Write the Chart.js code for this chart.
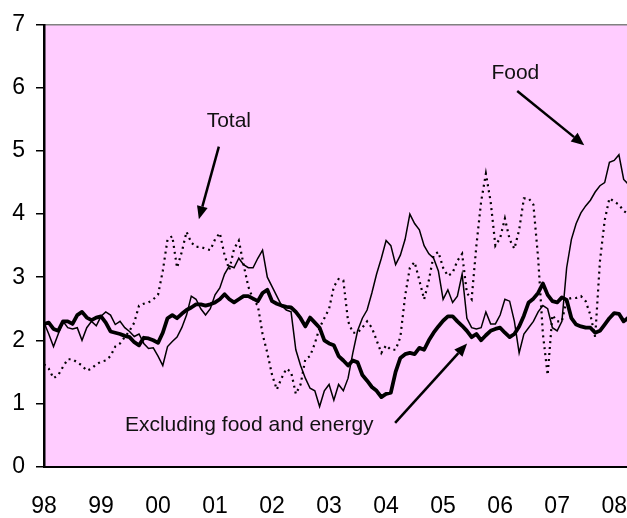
<!DOCTYPE html>
<html>
<head>
<meta charset="utf-8">
<script src="https://cdn.jsdelivr.net/npm/chart.js@4"></script>
<style>
html,body{margin:0;padding:0;background:#fff;overflow:hidden;}
#wrap{width:627px;height:518px;position:relative;}
</style>
</head>
<body>
<div id="wrap"><canvas id="c"></canvas></div>
<script>
// Month index 0 = Jan 1998
const yearLabels = ["98","99","00","01","02","03","04","05","06","07","08"];
const yTicks = [0,1,2,3,4,5,6,7];

const core = [2.26,2.28,2.18,2.15,2.3,2.3,2.26,2.4,2.45,2.36,2.32,2.36,
2.38,2.28,2.14,2.12,2.1,2.07,2.05,1.97,1.92,2.04,2.03,2.0,
1.96,2.12,2.35,2.4,2.35,2.42,2.48,2.52,2.57,2.57,2.55,2.57,
2.6,2.65,2.73,2.65,2.6,2.65,2.7,2.7,2.66,2.62,2.75,2.8,
2.62,2.58,2.55,2.53,2.52,2.45,2.35,2.22,2.36,2.28,2.2,2.0,
1.95,1.92,1.75,1.68,1.6,1.68,1.65,1.45,1.36,1.26,1.2,1.1,
1.15,1.17,1.5,1.72,1.78,1.8,1.78,1.88,1.85,2.0,2.12,2.22,
2.31,2.38,2.38,2.3,2.23,2.15,2.05,2.1,2.0,2.08,2.15,2.18,
2.2,2.12,2.05,2.1,2.22,2.39,2.6,2.66,2.75,2.9,2.72,2.62,
2.6,2.68,2.64,2.35,2.25,2.22,2.2,2.2,2.12,2.15,2.25,2.35,
2.43,2.42,2.3,2.36];

const food = [2.28,2.1,1.9,2.1,2.3,2.2,2.18,2.2,2.0,2.2,2.3,2.23,
2.38,2.45,2.4,2.25,2.3,2.2,2.14,2.06,2.1,1.95,1.87,1.88,
1.75,1.6,1.9,1.98,2.05,2.2,2.4,2.7,2.65,2.5,2.4,2.5,
2.72,2.83,3.05,3.18,3.15,3.3,3.2,3.15,3.15,3.3,3.43,3.0,
2.85,2.7,2.55,2.48,2.45,1.85,1.6,1.4,1.24,1.2,0.95,1.2,
1.3,1.05,1.3,1.2,1.4,1.8,2.15,2.35,2.48,2.75,3.05,3.3,
3.58,3.5,3.2,3.35,3.6,4.0,3.85,3.75,3.5,3.37,3.3,3.1,
2.65,2.8,2.6,2.7,3.05,2.35,2.2,2.18,2.2,2.45,2.26,2.26,
2.4,2.65,2.62,2.3,1.8,2.1,2.2,2.3,2.45,2.55,2.5,2.2,
2.15,2.3,3.15,3.6,3.85,4.02,4.13,4.22,4.35,4.45,4.5,4.82,
4.85,4.94,4.55,4.47];

const total = [1.62,1.55,1.4,1.45,1.58,1.7,1.7,1.65,1.6,1.52,1.55,1.62,
1.66,1.68,1.75,1.9,1.95,2.05,2.15,2.28,2.55,2.58,2.6,2.65,
2.72,3.1,3.6,3.65,3.15,3.4,3.72,3.55,3.48,3.48,3.45,3.43,
3.6,3.7,3.35,3.12,3.45,3.58,3.2,2.85,2.65,2.55,2.1,1.8,
1.45,1.22,1.4,1.55,1.5,1.15,1.3,1.7,1.75,1.95,2.2,2.35,
2.5,2.85,2.97,2.95,2.3,2.12,2.12,2.2,2.3,2.2,2.0,1.8,
1.92,1.85,1.85,2.05,2.7,3.15,3.24,2.95,2.65,2.95,3.35,3.4,
3.15,3.02,3.07,3.26,3.37,2.75,2.65,3.5,4.2,4.64,4.2,3.5,
3.62,3.93,3.6,3.45,3.75,4.25,4.25,4.15,3.3,2.1,1.45,2.4,
2.3,2.3,2.65,2.67,2.67,2.7,2.62,2.4,2.05,3.25,3.9,4.25,
4.2,4.15,4.05,4.0];

const toPts = arr => arr.map((v,i)=>({x:i,y:v}));
const FONT = "Arial, 'Liberation Sans', sans-serif";

// annotations in data coordinates (month index, value)
const notes = [
  {text:"Total", at:[38.9,5.48], from:[36.8,5.07], to:[32.6,3.92]},
  {text:"Food", at:[99.2,6.24], from:[99.6,5.95], to:[113.7,5.09]},
  {text:"Excluding food and energy", at:[43.2,0.65], from:[73.9,0.69], to:[89.05,1.95]}
];

const bgPlugin = {
  id:'bg',
  beforeDraw(chart){
    const {ctx, chartArea:a} = chart;
    ctx.save();
    ctx.fillStyle = '#ffccff';
    ctx.fillRect(a.left, a.top, a.right-a.left, a.bottom-a.top);
    ctx.strokeStyle = '#808080';
    ctx.lineWidth = 1.5;
    ctx.beginPath();
    ctx.moveTo(a.left, a.top); ctx.lineTo(a.right, a.top);
    ctx.stroke();
    ctx.restore();
  }
};

const notePlugin = {
  id:'notes',
  afterDatasetsDraw(chart){
    const {ctx, scales:{x,y}} = chart;
    ctx.save();
    ctx.font = "21px " + FONT;
    ctx.fillStyle = '#111';
    ctx.textAlign = 'center';
    ctx.textBaseline = 'middle';
    for (const n of notes){
      ctx.fillText(n.text, x.getPixelForValue(n.at[0]), y.getPixelForValue(n.at[1]));
      const x1 = x.getPixelForValue(n.from[0]), y1 = y.getPixelForValue(n.from[1]);
      const x2 = x.getPixelForValue(n.to[0]), y2 = y.getPixelForValue(n.to[1]);
      const ang = Math.atan2(y2-y1, x2-x1);
      const hl = 13, hw = 5.5;
      const bx = x2 - hl*Math.cos(ang), by = y2 - hl*Math.sin(ang);
      ctx.strokeStyle = '#000'; ctx.lineWidth = 2.5;
      ctx.beginPath(); ctx.moveTo(x1,y1); ctx.lineTo(bx,by); ctx.stroke();
      ctx.fillStyle = '#000';
      ctx.beginPath();
      ctx.moveTo(x2,y2);
      ctx.lineTo(bx + hw*Math.sin(ang), by - hw*Math.cos(ang));
      ctx.lineTo(bx - hw*Math.sin(ang), by + hw*Math.cos(ang));
      ctx.closePath(); ctx.fill();
      ctx.fillStyle = '#111';
    }
    ctx.restore();
  }
};

new Chart(document.getElementById('c'), {
  type:'line',
  data:{
    datasets:[
      {label:'Total', data:toPts(total), borderColor:'#000', borderWidth:2.2, borderDash:[2,4], borderCapStyle:'butt', pointRadius:0, tension:0, fill:false},
      {label:'Food', data:toPts(food), borderColor:'#000', borderWidth:1.5, pointRadius:0, tension:0, fill:false},
      {label:'Excluding food and energy', data:toPts(core), borderColor:'#000', borderWidth:3.8, pointRadius:0, tension:0, fill:false, borderJoinStyle:'round'}
    ]
  },
  options:{
    responsive:true,
    maintainAspectRatio:false,
    animation:false,
    layout:{padding:{top:22,left:0,right:0,bottom:0}},
    plugins:{legend:{display:false}, tooltip:{enabled:false}},
    scales:{
      x:{
        type:'linear', min:0, max:122.7,
        afterBuildTicks(s){ s.ticks = yearLabels.map((l,i)=>({value:i*12})); },
        afterFit(s){ s.height = 51.5; s.paddingLeft = 0; s.paddingRight = 0; },
        grid:{display:false},
        border:{display:true, color:'#000', width:2},
        ticks:{
          autoSkip:false, maxRotation:0, padding:18, color:'#000',
          font:{family:FONT, size:23},
          callback:(v)=> yearLabels[Math.round(v/12)]
        }
      },
      y:{
        type:'linear', min:0, max:7,
        afterBuildTicks(s){ s.ticks = yTicks.map(v=>({value:v})); },
        afterFit(s){ s.width = 44; },
        grid:{drawOnChartArea:false, tickLength:8, color:'#000', lineWidth:1.5},
        border:{display:true, color:'#000', width:2.5},
        ticks:{padding:11, color:'#000', font:{family:FONT, size:23}}
      }
    }
  },
  plugins:[bgPlugin, notePlugin]
});
</script>
</body>
</html>
